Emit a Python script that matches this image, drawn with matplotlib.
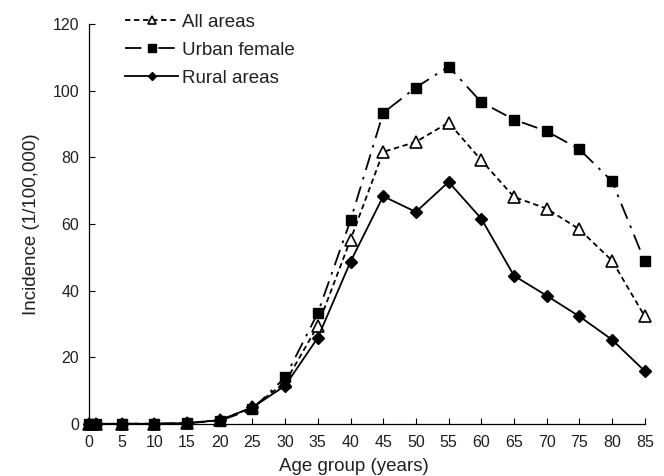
import numpy as np
import matplotlib.pyplot as plt

plt.rcParams['font.family'] = ['Liberation Sans', 'DejaVu Sans']
plt.rcParams['text.color'] = '#231f20'
plt.rcParams['axes.labelcolor'] = '#231f20'
plt.rcParams['xtick.labelcolor'] = '#231f20'
plt.rcParams['ytick.labelcolor'] = '#231f20'

# age groups (start of group, years)
ages = [0, 1, 5, 10, 15, 20, 25, 30, 35, 40, 45, 50, 55, 60, 65, 70, 75, 80, 85]
all_areas = [0.1, 0.1, 0.1, 0.1, 0.3, 1.2, 5.0, 12.5, 29.5, 55.3, 81.6, 84.6, 90.4,
             79.1, 68.1, 64.6, 58.4, 49.0, 32.3]
urban_female = [0.1, 0.1, 0.1, 0.1, 0.3, 1.0, 4.5, 14.0, 33.3, 61.1, 93.3, 100.9, 107.2,
                96.5, 91.3, 87.8, 82.4, 72.8, 48.8]
rural_areas = [0.1, 0.1, 0.1, 0.1, 0.3, 1.2, 5.0, 11.5, 25.9, 48.7, 68.3, 63.6, 72.6,
               61.6, 44.5, 38.5, 32.3, 25.3, 15.9]
xticks = list(range(0, 90, 5))
yticks = [0, 20, 40, 60, 80, 100, 120]

fig = plt.figure(figsize=(6.64, 4.76), dpi=100)
ax = fig.add_axes([0.134, 0.109, 0.837, 0.841])

ax.plot(ages, all_areas, color='black', lw=1.3, dashes=(3, 2),
        marker='^', ms=8.5, mfc='white', mec='black', mew=1.2,
        label='All areas', clip_on=False, zorder=3)
ax.plot(ages, urban_female, color='black', lw=1.3, dashes=(9, 4, 1.5, 4),
        marker='s', ms=7.5, mfc='black', mec='black',
        label='Urban female', clip_on=False, zorder=3)
ax.plot(ages, rural_areas, color='black', lw=1.3, linestyle='-',
        marker='D', ms=6.2, mfc='black', mec='black',
        label='Rural areas', clip_on=False, zorder=3)

ax.set_xlim(0, 85)
ax.set_ylim(0, 120)
ax.set_xticks(xticks)
ax.set_yticks(yticks)
ax.spines['top'].set_visible(False)
ax.spines['right'].set_visible(False)
ax.spines['left'].set_linewidth(0.9)
ax.spines['bottom'].set_linewidth(0.9)
ax.tick_params(direction='in', length=4, labelsize=11.5, width=0.8)
ax.tick_params(axis='x', pad=8)
ax.tick_params(axis='y', pad=7)
ax.set_xlabel('Age group (years)', fontsize=13.5, labelpad=5)
ax.xaxis.set_label_coords(0.477, -0.085)
ax.set_ylabel('Incidence (1/100,000)', fontsize=13.5, labelpad=9)

ax.legend(loc='upper left', bbox_to_anchor=(0.035, 1.068), frameon=False,
          fontsize=13.5, handlelength=2.8, handletextpad=0.2, labelspacing=0.58,
          markerscale=0.7)

fig.savefig('out.png', dpi=100)
